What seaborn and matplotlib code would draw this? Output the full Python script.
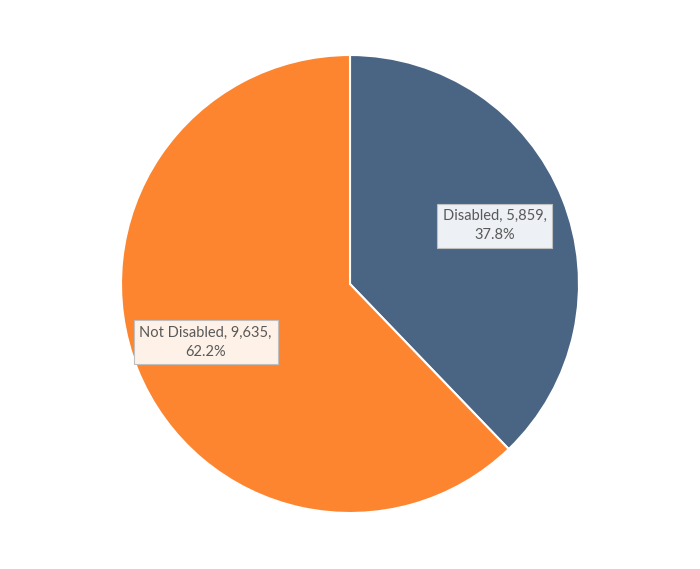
import matplotlib
matplotlib.use("Agg")
import matplotlib.pyplot as plt
import seaborn as sns

categories = ["Disabled", "Not Disabled"]
values = [5859, 9635]
colors = ["#4A6584", "#FD8530"]
box_colors = ["#EDF0F4", "#FEF2E8"]

sns.set_theme(style="white")
plt.rcParams['font.family'] = ['Lato', 'DejaVu Sans']

fig = plt.figure(figsize=(7.0, 5.69), dpi=100)
ax = fig.add_axes([0, 0, 1, 1])
total = sum(values)
labels = [f"{c}, {v:,},\n{v/total*100:.1f}%" for c, v in zip(categories, values)]

wedges, texts = ax.pie(values, colors=colors, startangle=90, counterclock=False,
                       labels=labels, labeldistance=0.68,
                       wedgeprops=dict(edgecolor="white", linewidth=1.5),
                       textprops=dict(fontsize=10.5, color="#595959", ha="center", va="center",
                                      multialignment="center", linespacing=1.45))
for t, bc in zip(texts, box_colors):
    t.set_horizontalalignment("center")
    t.set_bbox(dict(boxstyle="square,pad=0.4", facecolor=bc, edgecolor="#BFBFBF", linewidth=0.8))

ax.set_aspect("equal")
# pie radius 229 px, center (350, 284)
W, H = 700, 569
ax.set_xlim(-350 / 229, (W - 350) / 229)
ax.set_ylim(-(H - 284) / 229, 284 / 229)
ax.axis("off")
fig.savefig("out.png", dpi=100, facecolor="white")
